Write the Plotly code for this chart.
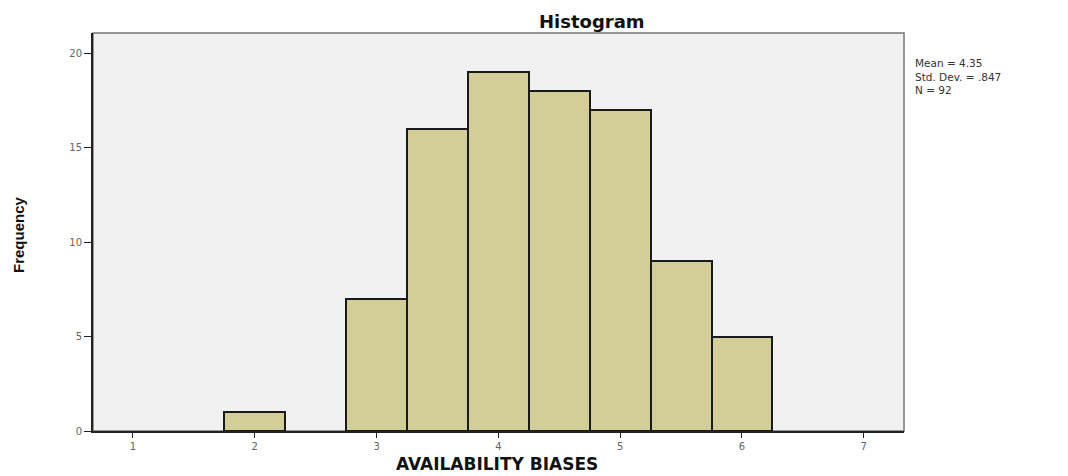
import plotly.graph_objects as go

bin_centers = [2.0, 3.0, 3.5, 4.0, 4.5, 5.0, 5.5, 6.0]
frequencies = [1, 7, 16, 19, 18, 17, 9, 5]
bin_width = 0.5
x_ticks = [1, 2, 3, 4, 5, 6, 7]
y_ticks = [0, 5, 10, 15, 20]
stats_lines = ["Mean = 4.35", "Std. Dev. = .847", "N = 92"]

# the page adds an 8px body margin; work in screen pixels and convert
OFF = 8
W, H = 1068, 476
L, T = 93 - OFF, 33 - OFF
R = W - (904 - OFF)
B = H - (431 - OFF)
pw, ph = W - L - R, H - T - B

def px_x(p):
    return (p - OFF - L) / pw

def px_y(p):
    return (H - B - (p - OFF)) / ph

fig = go.Figure()
fig.add_trace(go.Bar(
    x=bin_centers, y=frequencies, width=[bin_width] * len(bin_centers),
    marker=dict(color="#D3CE97", line=dict(color="#1a1a1a", width=2)),
    showlegend=False,
))

fig.update_layout(
    width=W, height=H,
    margin=dict(l=L, r=R, t=T, b=B, autoexpand=False),
    paper_bgcolor="white", plot_bgcolor="#F1F1F1",
    bargap=0,
    xaxis=dict(range=[0.672, 7.33], tickvals=x_ticks, ticks="outside", ticklen=5,
               tickcolor="#222", showgrid=False, zeroline=False, automargin=False,
               showline=True, linecolor="#222", linewidth=2,
               tickfont=dict(family="DejaVu Sans", size=10, color="#666")),
    yaxis=dict(range=[0, 21.06], tickvals=y_ticks, ticks="outside", ticklen=7,
               tickcolor="#222", showgrid=False, zeroline=False, automargin=False,
               showline=True, linecolor="#222", linewidth=2,
               tickfont=dict(family="DejaVu Sans", size=10, color="#666")),
)

fig.add_shape(type="rect", xref="paper", yref="paper", x0=0, x1=1, y0=0, y1=1,
              line=dict(color="#777", width=1.5), layer="below")

fig.add_annotation(text="<b>Histogram</b>", xref="paper", yref="paper",
                   x=px_x(592), y=px_y(21), yanchor="middle", xanchor="center", showarrow=False,
                   font=dict(family="DejaVu Sans", size=18, color="#111"))

fig.add_annotation(text="<b>AVAILABILITY BIASES</b>", xref="paper", yref="paper",
                   x=px_x(497), y=px_y(464), yanchor="middle", xanchor="center", showarrow=False,
                   font=dict(family="DejaVu Sans", size=17, color="#111"))

fig.add_annotation(text="<b>Frequency</b>", xref="paper", yref="paper", textangle=-90,
                   x=px_x(18), y=px_y(235), yanchor="middle", xanchor="center", showarrow=False,
                   font=dict(family="Liberation Sans", size=15, color="#111"))

fig.add_annotation(text="<br>".join(stats_lines), xref="paper", yref="paper",
                   x=px_x(913), y=px_y(55), xanchor="left", yanchor="top",
                   align="left", showarrow=False,
                   font=dict(family="DejaVu Sans", size=10.5, color="#333"))

fig.write_html("out.html")
